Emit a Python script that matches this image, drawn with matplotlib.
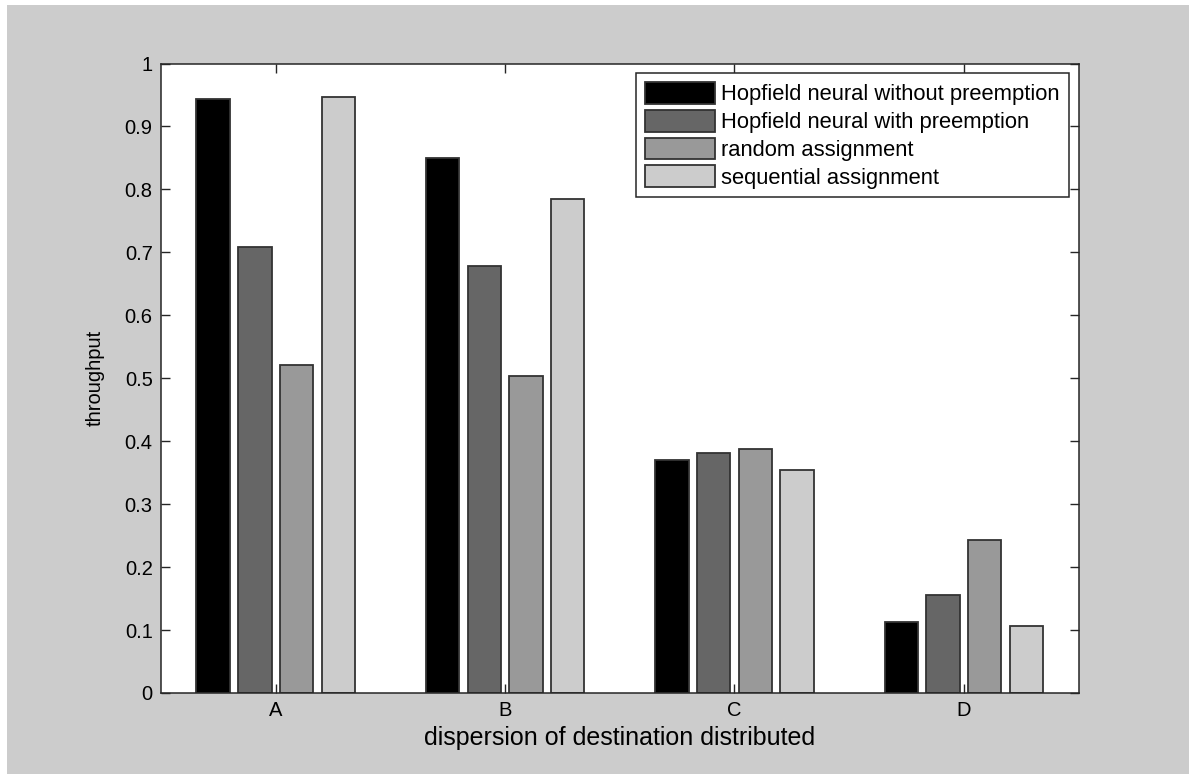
import matplotlib
matplotlib.use("Agg")
import matplotlib.pyplot as plt
from matplotlib.patches import Rectangle
import numpy as np

plt.rcParams['font.family'] = ['Liberation Sans', 'DejaVu Sans']

categories = ['A', 'B', 'C', 'D']
series_names = ['Hopfield neural without preemption',
                'Hopfield neural with preemption',
                'random assignment',
                'sequential assignment']
hop_without = [0.944, 0.850, 0.370, 0.112]
hop_with = [0.709, 0.679, 0.382, 0.155]
random_assign = [0.521, 0.504, 0.387, 0.243]
sequential_assign = [0.946, 0.784, 0.354, 0.107]
series_values = [hop_without, hop_with, random_assign, sequential_assign]
colors = ['#000000', '#666666', '#999999', '#cccccc']
y_ticks = [0, 0.1, 0.2, 0.3, 0.4, 0.5, 0.6, 0.7, 0.8, 0.9, 1]
y_tick_labels = ['0', '0.1', '0.2', '0.3', '0.4', '0.5', '0.6', '0.7', '0.8', '0.9', '1']

fig = plt.figure(figsize=(11.89, 7.74), dpi=100, facecolor='white')
fig.patches.append(Rectangle((7 / 1189, 0), 1 - 7 / 1189, 1 - 5 / 774,
                             transform=fig.transFigure, facecolor='#cccccc',
                             edgecolor='none', zorder=-10))

ax = fig.add_axes([161 / 1189, 1 - 693 / 774, (1078.5 - 161) / 1189, (693 - 63.5) / 774])
ax.set_facecolor('white')

n = len(series_values)
group_width = n / (n + 1.5)
step = group_width / n
bar_w = 0.8 * step
x = np.arange(1, len(categories) + 1)
for i, (vals, name, c) in enumerate(zip(series_values, series_names, colors)):
    off = (i - (n - 1) / 2) * step
    ax.bar(x + off, vals, width=bar_w, color=c, edgecolor='#333333',
           linewidth=1.3, label=name, zorder=2)

ax.set_xlim(0.5, 4.5)
ax.set_ylim(0, 1)
ax.set_xticks(x)
ax.set_xticklabels(categories)
ax.set_yticks(y_ticks)
ax.set_yticklabels(y_tick_labels)

fs = 14.5
ax.tick_params(direction='in', length=6.5, width=1, top=True, right=True,
               labelsize=fs, colors='#262626', labelcolor='black', pad=6)
for s in ax.spines.values():
    s.set_color('#262626')
    s.set_linewidth(1.1)

ax.set_xlabel('dispersion of destination distributed', fontsize=18, labelpad=4)
ax.set_ylabel('throughput', fontsize=fs, labelpad=14)

leg = ax.legend(loc='upper right', fontsize=15.8, frameon=True, fancybox=False,
                edgecolor='#262626', framealpha=1, handlelength=3.2,
                handleheight=1.15, handletextpad=0.3, labelspacing=0.2,
                borderpad=0.4, borderaxespad=0.45)
leg.get_frame().set_linewidth(1.1)

fig.savefig('out.png', dpi=100, facecolor=fig.get_facecolor())
